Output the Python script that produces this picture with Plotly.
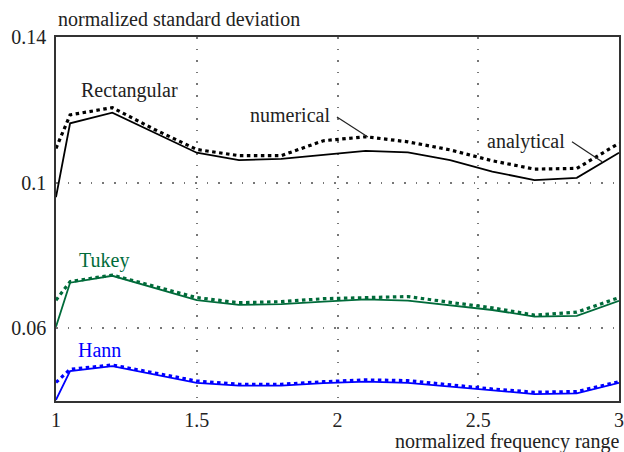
import plotly.graph_objects as go

freq = [1.0, 1.05, 1.2, 1.35, 1.5, 1.65, 1.8, 1.95, 2.1, 2.25, 2.4, 2.55, 2.7, 2.85, 3.0]

rect_analytical = [0.0960, 0.1163, 0.1192, 0.1136, 0.1082, 0.1062, 0.1065, 0.1076, 0.1087, 0.1083, 0.1062, 0.1030, 0.1007, 0.1013, 0.1082]
rect_numerical = [0.1094, 0.1186, 0.1206, 0.1146, 0.1091, 0.1074, 0.1074, 0.1115, 0.1126, 0.1112, 0.1090, 0.1060, 0.1037, 0.1039, 0.1108]

tukey_analytical = [0.0604, 0.0725, 0.0744, 0.0710, 0.0677, 0.0664, 0.0666, 0.0673, 0.0679, 0.0676, 0.0664, 0.0650, 0.0632, 0.0634, 0.0675]
tukey_numerical = [0.0677, 0.0728, 0.0746, 0.0715, 0.0684, 0.0670, 0.0673, 0.0681, 0.0685, 0.0687, 0.0671, 0.0656, 0.0636, 0.0644, 0.0684]

hann_analytical = [0.0403, 0.0482, 0.0496, 0.0473, 0.0450, 0.0442, 0.0442, 0.0449, 0.0453, 0.0450, 0.0439, 0.0430, 0.0419, 0.0421, 0.0450]
hann_numerical = [0.0451, 0.0487, 0.0499, 0.0477, 0.0455, 0.0446, 0.0446, 0.0453, 0.0458, 0.0456, 0.0444, 0.0433, 0.0424, 0.0426, 0.0453]

x_ticks = [1, 1.5, 2, 2.5, 3]
x_tick_text = ["1", "1.5", "2", "2.5", "3"]
y_ticks = [0.06, 0.1, 0.14]
y_tick_text = ["0.06", "0.1", "0.14"]

BLACK = "#000000"
GREEN = "#006B3A"
BLUE = "#0000FF"
FONT = "Liberation Serif"
FS = 20

fig = go.Figure()
series = [
    (rect_numerical, rect_analytical, BLACK),
    (tukey_numerical, tukey_analytical, GREEN),
    (hann_numerical, hann_analytical, BLUE),
]
for num, ana, col in series:
    fig.add_trace(go.Scatter(x=freq, y=num, mode="lines",
                             line=dict(color=col, width=3.2, dash="3.5px,3.5px"),
                             showlegend=False, hoverinfo="skip"))
    fig.add_trace(go.Scatter(x=freq, y=ana, mode="lines",
                             line=dict(color=col, width=1.8),
                             showlegend=False, hoverinfo="skip"))

axis_common = dict(
    showline=True, linecolor="#333333", linewidth=1.6, mirror=True,
    ticks="", showgrid=True, gridcolor="#777777", gridwidth=1.6,
    griddash="1.6px,10px", zeroline=False, automargin=False,
    tickfont=dict(family=FONT, size=FS, color="#222222"),
)
fig.update_xaxes(range=[1, 3], tickvals=x_ticks, ticktext=x_tick_text, **axis_common)
fig.update_yaxes(range=[0.04, 0.14], tickvals=y_ticks, ticktext=y_tick_text,
                 ticklabelstandoff=4, **axis_common)

def label(text, x, y, color, **kw):
    fig.add_annotation(x=x, y=y, xref="x", yref="y", text=text, showarrow=False,
                       font=dict(family=FONT, size=FS, color=color), **kw)

label("Rectangular", 1.26, 0.1252, "#222222")
label("Tukey", 1.172, 0.0787, GREEN)
label("Hann", 1.156, 0.0540, BLUE)
label("numerical", 1.831, 0.1186, "#222222")
label("analytical", 2.671, 0.1114, "#222222")

fig.add_shape(type="line", xref="x", yref="y", x0=1.998, y0=0.1180, x1=2.108, y1=0.1125,
              line=dict(color="#222222", width=1.2))
fig.add_shape(type="line", xref="x", yref="y", x0=2.833, y0=0.1112, x1=2.94, y1=0.1057,
              line=dict(color="#222222", width=1.2))

fig.add_annotation(x=0, y=1.05, xref="paper", yref="paper", xanchor="left", yanchor="middle",
                   text="normalized standard deviation", showarrow=False,
                   font=dict(family=FONT, size=FS, color="#222222"))
fig.add_annotation(x=1.003, y=-0.11, xref="paper", yref="paper", xanchor="right", yanchor="middle",
                   text="normalized frequency range", showarrow=False,
                   font=dict(family=FONT, size=FS, color="#222222"))

fig.update_layout(
    width=624, height=452,
    margin=dict(l=56, r=5, t=37, b=51),
    paper_bgcolor="white", plot_bgcolor="white",
    font=dict(family=FONT, size=FS, color="#222222"),
    showlegend=False,
)

fig.write_html("out.html")
